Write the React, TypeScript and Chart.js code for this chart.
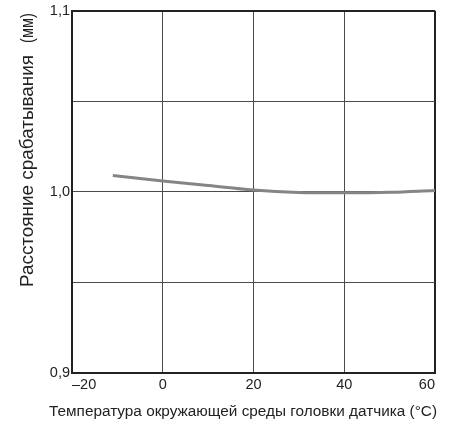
import React, { useEffect, useRef } from "react";
import { Chart, registerables } from "chart.js";

Chart.register(...registerables);

const temperatures = [-11, 0, 10, 20, 30, 40, 50, 60];
const distances = [1.009, 1.006, 1.0035, 1.001, 0.9997, 0.9995, 0.9998, 1.0008];
const xTicks = [-20, 0, 20, 40, 60];
const yLabelled = [0.9, 1.0, 1.1];
const xTitle = "Температура окружающей среды головки датчика (°C)";
const yTitleMain = "Расстояние срабатывания";
const yTitleUnit = "(мм)";

// draw text starting at (x, y) in current coords, squeezed to the given width
function fitText(ctx: CanvasRenderingContext2D, text: string, x: number, y: number, width: number) {
  const w = ctx.measureText(text).width;
  const k = width / w;
  ctx.save();
  ctx.translate(x, y);
  ctx.scale(k, 1);
  ctx.textAlign = "left";
  ctx.fillText(text, 0, 0);
  ctx.restore();
}

const titlesPlugin = {
  id: "titles",
  afterDraw(chart: any) {
    const ctx = chart.ctx as CanvasRenderingContext2D;
    ctx.save();
    ctx.fillStyle = "#222";
    ctx.font = "15.5px 'Liberation Sans Narrow', 'Liberation Sans', Arial, sans-serif";
    ctx.textBaseline = "alphabetic";
    fitText(ctx, xTitle, 49, 415.5, 388);
    ctx.restore();

    ctx.save();
    ctx.translate(33, 0);
    ctx.rotate(-Math.PI / 2);
    ctx.fillStyle = "#222";
    ctx.font = "19px 'Liberation Sans', Arial, sans-serif";
    ctx.textBaseline = "alphabetic";
    fitText(ctx, yTitleMain, -287, 0, 232);
    fitText(ctx, yTitleUnit, -43, 0, 30);
    ctx.restore();
  },
};

export default function App() {
  const ref = useRef<HTMLCanvasElement>(null);
  useEffect(() => {
    if (!ref.current) return;
    const font = "'Liberation Sans', Arial, sans-serif";
    const chart = new Chart(ref.current, {
      type: "line",
      data: {
        datasets: [
          {
            data: temperatures.map((t, i) => ({ x: t, y: distances[i] })),
            borderColor: "#858585",
            borderWidth: 3,
            pointRadius: 0,
            tension: 0.4,
            fill: false,
          },
        ],
      },
      options: {
        responsive: false,
        animation: false,
        layout: { padding: { left: 0, right: 22, top: 10, bottom: 0 } },
        plugins: { legend: { display: false }, tooltip: { enabled: false } },
        scales: {
          x: {
            type: "linear",
            min: -20,
            max: 60,
            afterBuildTicks: (s: any) => {
              s.ticks = xTicks.map((v) => ({ value: v }));
            },
            afterFit: (s: any) => {
              s.height = 52;
            },
            ticks: {
              color: "#222",
              font: { family: font, size: 14.5 },
              padding: 3,
              maxRotation: 0,
              align: "inner",
              callback: (v: any) => (Number(v) < 0 ? "–" + Math.abs(Number(v)) : String(v)),
            },
            grid: {
              drawTicks: false,
              color: (c: any) => (c.tick && c.tick.value === 60 ? "#222" : "#4a4a4a"),
              lineWidth: (c: any) => (c.tick && c.tick.value === 60 ? 2 : 1),
            },
            border: { color: "#222", width: 2 },
          },
          y: {
            type: "linear",
            min: 0.9,
            max: 1.1,
            ticks: {
              stepSize: 0.05,
              color: "#222",
              font: { family: font, size: 14.5 },
              padding: 2,
              align: "inner",
              callback: (v: any) => {
                const n = Number(v);
                const hit = yLabelled.find((y) => Math.abs(y - n) < 1e-6);
                return hit !== undefined ? hit.toFixed(1).replace(".", ",") : "";
              },
            },
            afterFit: (s: any) => {
              s.width = 72;
            },
            grid: {
              drawTicks: false,
              color: (c: any) => (c.tick && Math.abs(c.tick.value - 1.1) < 1e-6 ? "#222" : "#4a4a4a"),
              lineWidth: (c: any) => (c.tick && Math.abs(c.tick.value - 1.1) < 1e-6 ? 2 : 1),
            },
            border: { color: "#222", width: 2 },
          },
        },
      },
      plugins: [titlesPlugin],
    } as any);
    return () => chart.destroy();
  }, []);
  return (
    <div style={{ position: "fixed", left: 0, top: 0, width: 457, height: 425, background: "#fff" }}>
      <canvas ref={ref} width={457} height={425} style={{ width: 457, height: 425 }} />
    </div>
  );
}
